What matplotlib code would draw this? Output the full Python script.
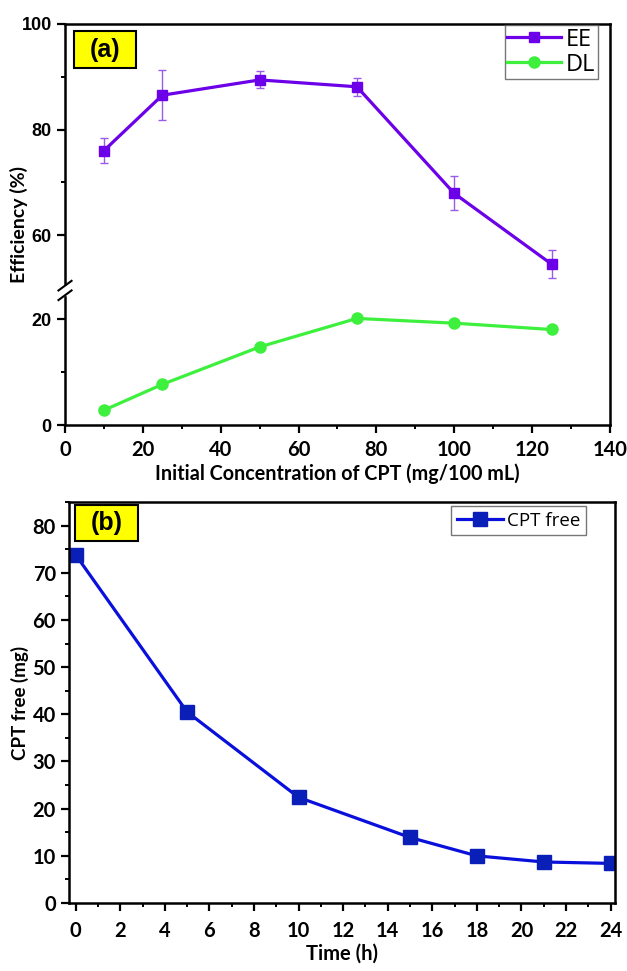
import numpy as np
import matplotlib
matplotlib.use("Agg")
import matplotlib.pyplot as plt
from matplotlib.ticker import FixedLocator, MultipleLocator
from matplotlib.lines import Line2D
from matplotlib.patches import Rectangle

# panel (a): loading vs initial CPT concentration
conc = [10, 25, 50, 75, 100, 125]
ee = [76.0, 86.5, 89.4, 88.1, 67.9, 54.5]
ee_err = [2.4, 4.7, 1.6, 1.7, 3.2, 2.6]
dl = [2.8, 7.7, 14.8, 20.2, 19.3, 18.1]

# panel (b): free CPT over time
time_h = [0, 5, 10, 15, 18, 21, 24]
cpt_free = [73.8, 40.5, 22.4, 13.9, 10.0, 8.7, 8.4]

plt.rcParams['font.family'] = ['Lato', 'DejaVu Sans']
plt.rcParams['font.weight'] = 'bold'

# broken y axis: 0-25 and 50-100, squeezed gap in between
def fwd(y):
    y = np.asarray(y, dtype=float)
    return np.where(y <= 25, y, np.where(y < 50, 25 + (y - 25) / 25.0, y - 24))

def inv(t):
    t = np.asarray(t, dtype=float)
    return np.where(t <= 25, t, np.where(t < 26, 25 + (t - 25) * 25.0, t + 24))

fig = plt.figure(figsize=(6.27, 9.71), dpi=100)

ax1 = fig.add_axes([0.1037, 0.5623, 0.869, 0.413])
ax2 = fig.add_axes([0.110, 0.0700, 0.871, 0.413])

purple = '#6C00E8'
green = '#3DF03D'
blue = '#0A10DC'
legend_font = {'family': 'Open Sans', 'weight': 'normal'}

# ---- (a)
ax1.set_yscale('function', functions=(fwd, inv))
ax1.errorbar(conc, ee, yerr=ee_err, color=purple, lw=2.3, marker='s', ms=7,
             ecolor='#9A5CE8', elinewidth=1.0, capsize=3, capthick=1.0, label='EE')
ax1.plot(conc, dl, color=green, lw=2.3, marker='o', ms=8, label='DL')
ax1.set_xlim(0, 140)
ax1.set_ylim(0, 100)
ax1.xaxis.set_major_locator(MultipleLocator(20))
ax1.xaxis.set_minor_locator(MultipleLocator(10))
ax1.yaxis.set_major_locator(FixedLocator([0, 20, 60, 80, 100]))
ax1.yaxis.set_minor_locator(FixedLocator([10, 70, 90]))
ax1.set_xlabel('Initial Concentration of CPT (mg/100 mL)', fontsize=14.2,
               fontweight='bold', labelpad=2)
ax1.set_ylabel('Efficiency (%)', fontsize=14, fontweight='bold')
ax1.yaxis.set_label_coords(-0.068, 0.5)
ax1.tick_params(axis='y', labelsize=13, labelfontfamily='Liberation Sans')
ax1.tick_params(axis='x', labelsize=14.5, pad=5)

leg = ax1.legend(handles=[Line2D([], [], color=purple, lw=2.3, marker='s', ms=7),
                          Line2D([], [], color=green, lw=2.3, marker='o', ms=8)],
                 labels=['EE', 'DL'], loc='upper right',
                 bbox_to_anchor=(0.98, 1.0), frameon=True, fancybox=False,
                 edgecolor='#555555', handlelength=2.3, handletextpad=0.2,
                 borderpad=0.1, labelspacing=0.05, borderaxespad=0.05,
                 prop=dict(legend_font, size=17))
leg.get_frame().set_linewidth(1.0)

# break marks on the left spine
tb = fwd(25) / fwd(100)
tt = fwd(50) / fwd(100)
ax1.add_patch(Rectangle((-0.02, tb - 0.004), 0.04, (tt - tb) + 0.008,
                        transform=ax1.transAxes, color='white', clip_on=False, zorder=5))
for dy in (-0.012, 0.012):
    mid = (tb + tt) / 2 + dy
    ax1.plot([-0.012, 0.012], [mid - 0.012, mid + 0.012], color='black', lw=1.5,
             transform=ax1.transAxes, clip_on=False, zorder=6)

# ---- (b)
ax2.plot(time_h, cpt_free, color=blue, lw=2.3, marker='s', ms=10,
         mfc='#0A1EB8', mec='#0A1EB8', label='CPT free')
ax2.set_xlim(-0.3, 24.2)
ax2.set_ylim(0, 85)
ax2.xaxis.set_major_locator(MultipleLocator(2))
ax2.xaxis.set_minor_locator(MultipleLocator(1))
ax2.yaxis.set_major_locator(MultipleLocator(10))
ax2.yaxis.set_minor_locator(MultipleLocator(5))
ax2.set_xlabel('Time (h)', fontsize=14.5, fontweight='bold', labelpad=2)
ax2.set_ylabel('CPT free (mg)', fontsize=13.5, fontweight='bold')
ax2.yaxis.set_label_coords(-0.074, 0.5)
ax2.tick_params(labelsize=14.5)
ax2.tick_params(axis='x', pad=7)
leg2 = ax2.legend(loc='upper right', bbox_to_anchor=(0.947, 0.99), frameon=True,
                  fancybox=False, edgecolor='#555555', handlelength=2.5,
                  handletextpad=0.2, borderpad=0.3, borderaxespad=0.0,
                  prop=dict(legend_font, size=13.5))
leg2.get_frame().set_linewidth(1.0)

# panel tags in yellow boxes
tags = [(ax1, '(a)', (0.0165, 0.890, 0.1135, 0.0925)),
        (ax2, '(b)', (0.0110, 0.9027, 0.1154, 0.0898))]
for ax, tag, (bx, by, bw, bh) in tags:
    for sp in ax.spines.values():
        sp.set_linewidth(1.8)
    ax.tick_params(which='major', direction='out', length=6, width=1.6)
    ax.tick_params(which='minor', direction='out', length=3, width=1.4)
    ax.add_patch(Rectangle((bx, by), bw, bh, transform=ax.transAxes, fc='#FFFF00',
                           ec='black', lw=1.5, zorder=7))
    ax.text(bx + bw / 2, by + bh / 2, tag, transform=ax.transAxes, fontsize=18,
            fontweight='bold', ha='center', va='center', family='Liberation Sans',
            zorder=8)

fig.savefig('out.png', dpi=100)
